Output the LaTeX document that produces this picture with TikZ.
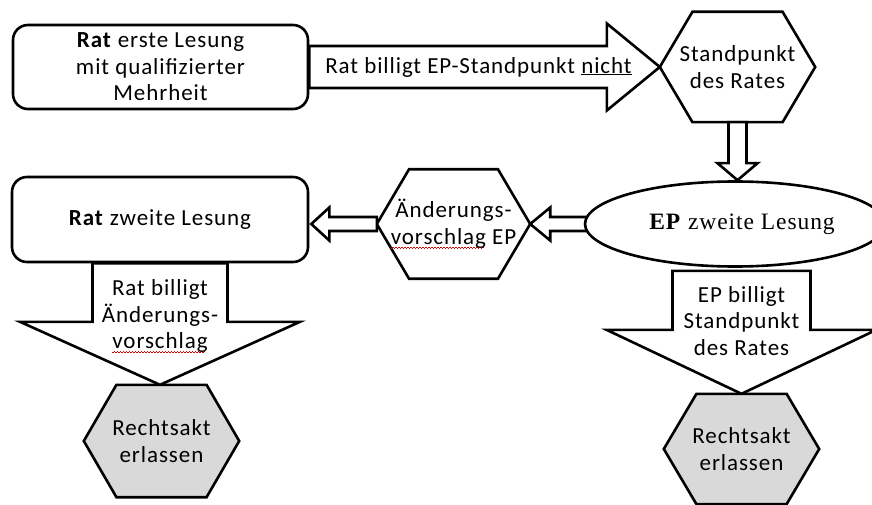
\documentclass[tikz,border=0pt]{standalone}
\usepackage{fontspec}
\setmainfont{Carlito}[LetterSpace=4]
\newfontfamily\serifep{Liberation Serif}[LetterSpace=4]
\usetikzlibrary{shapes.geometric, calc}

\pgfdeclarelayer{back}
\pgfsetlayers{back,main}

\definecolor{hexgray}{RGB}{217,217,217}

\tikzstyle{box} = [rectangle, rounded corners=15pt, draw=black, fill=white, line width=2.6pt, minimum width=295pt, minimum height=84pt, align=center]
\tikzstyle{hexa} = [rectangle, minimum width=155pt, minimum height=110pt, inner sep=0pt, align=center]
\tikzstyle{oval} = [ellipse, draw=black, fill=white, line width=2.6pt, minimum width=300pt, minimum height=85pt, inner sep=0pt]
\tikzstyle{blockarrow} = [draw=black, fill=white, line width=2.6pt, line join=miter]
\tikzstyle{hexline} = [draw=black, line width=2.6pt]
\tikzstyle{lbl} = [align=center, inner sep=0pt]

\newsavebox{\wavebox}
\newcommand{\spellwave}[1]{\sbox{\wavebox}{#1}\rlap{\textcolor{red!85!black}{\raisebox{-4pt}{\leaders\hbox{\rule{1.5pt}{0.7pt}\rule[0.7pt]{1.5pt}{0.7pt}}\hskip\wd\wavebox}}}\usebox{\wavebox}}
\newcommand{\drawhex}[2]{\draw[hexline, fill=#2] (#1.west) -- ($(#1.north west)!0.21!(#1.north east)$) -- ($(#1.north east)!0.21!(#1.north west)$) -- (#1.east) -- ($(#1.south east)!0.21!(#1.south west)$) -- ($(#1.south west)!0.21!(#1.south east)$) -- cycle;}

\begin{document}
\begin{tikzpicture}[x=1pt, y=1pt, font=\fontsize{23}{26.5}\selectfont]

    \useasboundingbox (0,0) rectangle (872,504);

    \node (rat1) [box] at (160.5, 437) {\textbf{Rat} erste Lesung\\mit qualifizierter\\Mehrheit};
    \node (sp) [hexa] at (737.5, 437) {Standpunkt\\des Rates};
    \node (ep2) [oval] at (735, 280) {\hspace{14pt}\serifep\fontsize{23.5}{28}\selectfont\textbf{EP} zweite Lesung};
    \node (aev) [hexa, minimum width=153pt, minimum height=109pt] at (453.5, 280) {Änderungs-\\\spellwave{vorschlag} EP};
    \node (rat2) [box, minimum width=296pt, minimum height=85pt] at (160, 284.5) {\textbf{Rat} zweite Lesung};
    \node (ra1) [hexa, minimum height=112pt] at (161.5, 63) {Rechtsakt\\erlassen};
    \node (ra2) [hexa] at (741.5, 55) {Rechtsakt\\erlassen};

    \coordinate (t2) at (sp.south |- ep2.north);
    \coordinate (t4) at ($(rat2.east |- aev.west)+(2,0)$);
    \coordinate (t5) at (rat2.south |- ra1.north);
    \coordinate (s6) at ($(ra2.north |- ep2.south)+(0,-3)$);

    \begin{pgfonlayer}{back}
        \fill[white] (0,0) rectangle (872,504);
        \drawhex{sp}{white}
        \drawhex{aev}{white}
        \drawhex{ra1}{hexgray}
        \drawhex{ra2}{hexgray}

        % block arrows
        \draw [blockarrow] ($(rat1.east)+(0,21)$) -- ($(sp.west)+(-53,21)$) -- ($(sp.west)+(-53,43.5)$) -- (sp.west)
            -- ($(sp.west)+(-53,-43.5)$) -- ($(sp.west)+(-53,-21)$) -- ($(rat1.east)+(0,-21)$) -- cycle;
        \draw [blockarrow] ($(sp.south)+(-9,0)$) -- ($(t2)+(-9,17)$) -- ($(t2)+(-20,17)$) -- (t2)
            -- ($(t2)+(20,17)$) -- ($(t2)+(9,17)$) -- ($(sp.south)+(9,0)$) -- cycle;
        \draw [blockarrow] ($(ep2.west)+(6,7)$) -- ($(aev.east)+(20,7)$) -- ($(aev.east)+(20,16.5)$) -- (aev.east)
            -- ($(aev.east)+(20,-16.5)$) -- ($(aev.east)+(20,-7)$) -- ($(ep2.west)+(6,-7)$) -- cycle;
        \draw [blockarrow] ($(aev.west)+(0,7)$) -- ($(t4)+(18,7)$) -- ($(t4)+(18,16.5)$) -- (t4)
            -- ($(t4)+(18,-16.5)$) -- ($(t4)+(18,-7)$) -- ($(aev.west)+(0,-7)$) -- cycle;
        \draw [blockarrow] ($(rat2.south)+(-67.5,0)$) -- ($(t5)+(-67.5,63)$) -- ($(t5)+(-140,63)$) -- (t5)
            -- ($(t5)+(140,63)$) -- ($(t5)+(67.5,63)$) -- ($(rat2.south)+(67.5,0)$) -- cycle;
        \draw [blockarrow] ($(s6)+(-69,0)$) -- ($(ra2.north)+(-69,64)$) -- ($(ra2.north)+(-135,64)$) -- (ra2.north)
            -- ($(ra2.north)+(135,64)$) -- ($(ra2.north)+(69,64)$) -- ($(s6)+(69,0)$) -- cycle;
    \end{pgfonlayer}

    \node (l1) [lbl] at ($(rat1.east)!0.5!(sp.west)+(-6,0)$) {Rat billigt EP-Standpunkt \underline{nicht}};
    \node (l5) [lbl] at ($(rat2.south)+(0,-53)$) {Rat billigt\\Änderungs-\\\spellwave{vorschlag}};
    \node (l6) [lbl] at ($(ra2.north)+(0,73)$) {EP billigt\\Standpunkt\\des Rates};

\end{tikzpicture}
\end{document}
